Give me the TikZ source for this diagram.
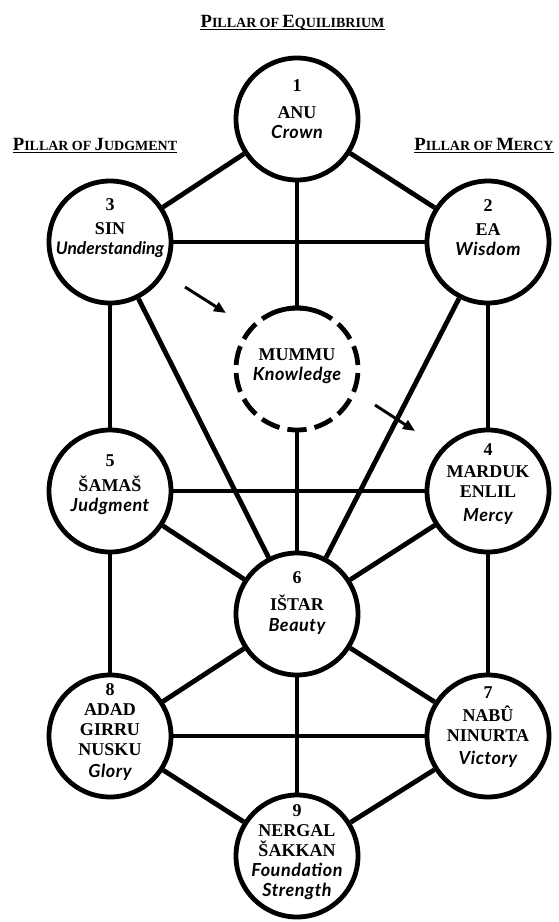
\documentclass[tikz,border=0pt]{standalone}
\usepackage{fontspec}
\setmainfont{Liberation Serif}
\newfontfamily\descfont{Lato}[LetterSpace=3]
\usetikzlibrary{arrows.meta}
\newcommand\scw[2]{{\fontsize{14}{14}\selectfont #1}{\fontsize{10.5}{10.5}\selectfont #2}}
\newcommand\desc[1]{{\descfont\itshape #1}}
\begin{document}
\begin{tikzpicture}[x=0.75pt,y=-0.75pt,
  circ/.style={circle, draw, fill=white, line width=3.6pt, minimum size=91.5pt, inner sep=0pt},
  ghost/.style={circle, minimum size=91.5pt, inner sep=0pt, outer sep=1.8pt},
  conn/.style={line width=3.6pt},
  txt/.style={align=center, inner sep=0pt, font=\fontsize{13.5}{15}\selectfont\bfseries},
  hdr/.style={inner sep=0pt, anchor=base, font=\bfseries},
  uline/.style={line width=1.1pt},
  pointer/.style={line width=2.2pt, -{Triangle[length=9pt,width=7.5pt]}}]
\useasboundingbox (0,0) rectangle (559,922);
% circles
\node[circ] (n1) at (297,119) {};
\node[circ] (n3) at (110,242) {};
\node[circ] (n2) at (488,242) {};
\node[ghost] (nM) at (297,369) {};
\node[circ] (n5) at (110,491) {};
\node[circ] (n4) at (488,491) {};
\node[circ] (n6) at (297,614) {};
\node[circ] (n8) at (110,736) {};
\node[circ] (n7) at (488,736) {};
\node[circ] (n9) at (297,856) {};
% dashed circle of Mummu
\draw[line width=3.6pt, dash pattern=on 14.5pt off 6.03pt, dash phase=7.25pt]
  (nM.center) ++(90:45.75pt) arc[start angle=90, end angle=450, radius=45.75pt];
\draw[line width=3.6pt] (nM.center) ++(72:45.75pt) arc[start angle=72, end angle=108, radius=45.75pt];
% connectors
\draw[conn] (n1) -- (n3);
\draw[conn] (n1) -- (n2);
\draw[conn] (n1) -- (nM);
\draw[conn] (n3) -- (n2);
\draw[conn] (n3) -- (n5);
\draw[conn] (n2) -- (n4);
\draw[conn] (n3) -- (n6);
\draw[conn] (n2) -- (n6);
\draw[conn] (nM) -- (n6);
\draw[conn] (n5) -- (n4);
\draw[conn] (n5) -- (n6);
\draw[conn] (n4) -- (n6);
\draw[conn] (n5) -- (n8);
\draw[conn] (n4) -- (n7);
\draw[conn] (n6) -- (n8);
\draw[conn] (n6) -- (n7);
\draw[conn] (n6) -- (n9);
\draw[conn] (n8) -- (n7);
\draw[conn] (n8) -- (n9);
\draw[conn] (n7) -- (n9);
% arrows
\coordinate (a1s) at (185,287);
\coordinate (a1e) at (226,313);
\coordinate (a2s) at (375,405);
\coordinate (a2e) at (415,431);
\draw[pointer] (a1s) -- (a1e);
\draw[pointer] (a2s) -- (a2e);
% texts
\node[txt] (t1) at (297,109) {1\\[5pt]ANU\\\desc{Crown}};
\node[txt] (t3) at (110,228) {3\\[3pt]SIN\\{\descfont\itshape\addfontfeature{LetterSpace=0}\fontsize{13}{15}\selectfont Understanding}};
\node[txt] (t2) at (488,228) {2\\[3pt]EA\\\desc{Wisdom}};
\node[txt] (tM) at (297,366) {MUMMU\\\desc{Knowledge}};
\node[txt] (t5) at (110,485) {5\\[4pt]ŠAMAŠ\\\desc{Judgment}};
\node[txt] (t4) at (488,484) {4\\[2pt]MARDUK\\ENLIL\\[3pt]\desc{Mercy}};
\node[txt] (t6) at (297,603) {6\\[5pt]IŠTAR\\[1pt]\desc{Beauty}};
\node[txt] (t8) at (110,732) {8\\ADAD\\GIRRU\\NUSKU\\[1pt]\desc{Glory}};
\node[txt] (t7) at (488,727) {7\\[2pt]NABÛ\\NINURTA\\[2pt]\desc{Victory}};
\node[txt] (t9) at (297,852) {9\\NERGAL\\ŠAKKAN\\\desc{Foundation}\\\desc{Strength}};
% headers
\node[hdr] (h1) at (292.5,27) {\scw{P}{ILLAR} \scw{}{OF} \scw{E}{QUILIBRIUM}};
\node[hdr] (h2) at (95,150) {\scw{P}{ILLAR} \scw{}{OF} \scw{J}{UDGMENT}};
\node[hdr] (h3) at (484,150) {\scw{P}{ILLAR} \scw{}{OF} \scw{M}{ERCY}};
\draw[uline] ([yshift=-2pt]h1.base west) -- ([yshift=-2pt]h1.base east);
\draw[uline] ([yshift=-2pt]h2.base west) -- ([yshift=-2pt]h2.base east);
\draw[uline] ([yshift=-2pt]h3.base west) -- ([yshift=-2pt]h3.base east);
\end{tikzpicture}
\end{document}
